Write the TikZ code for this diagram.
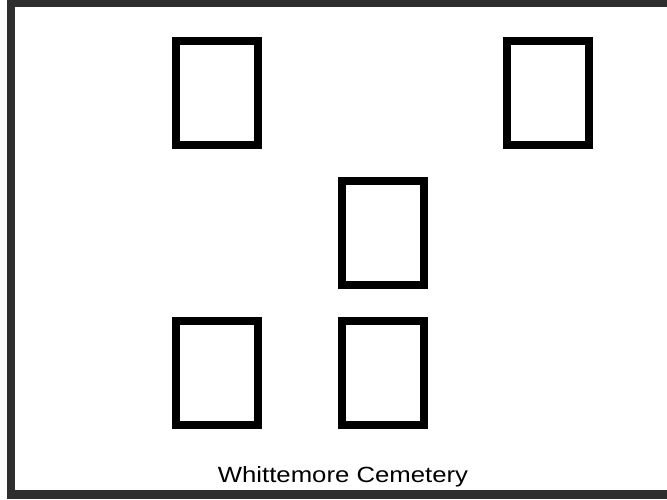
\documentclass[tikz,border=0pt]{standalone}
\usepackage{fontspec}
\setmainfont{Liberation Sans}
\begin{document}
\begin{tikzpicture}[x=1pt,y=1pt,
  plot/.style={draw=black,line width=8pt,minimum width=82pt,minimum height=104pt,inner sep=0pt,fill=white},
  frame/.style={fill=black!82}]
\useasboundingbox (0,0) rectangle (667,499);
\fill[white] (0,0) rectangle (667,499);
% noisy frame
\fill[frame] (7,492) rectangle (667,499);
\fill[frame] (7,0) rectangle (15,499);
\fill[frame] (7,0) rectangle (667,9);
% grave plots
\node[plot] (p1) at (217,406) {};
\node[plot] (p2) at (547.5,406) {};
\node[plot] (p3) at (382.5,266) {};
\node[plot] (p4) at (217,126) {};
\node[plot] (p5) at (382.5,126) {};
% caption
\node[anchor=base,inner sep=0pt,xscale=1.17] (cap) at (343,17) {\fontsize{22}{26}\selectfont Whittemore Cemetery};
\end{tikzpicture}
\end{document}
